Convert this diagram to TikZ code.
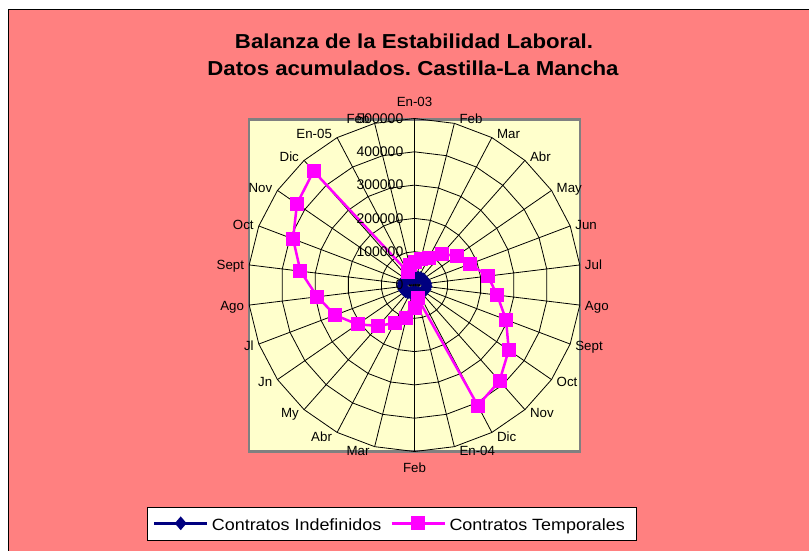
\documentclass[tikz,border=0pt]{standalone}
\usepackage{fontspec}
\setmainfont{Liberation Sans}
\newfontfamily\widefont[FakeStretch=1.1]{Liberation Sans}
\usetikzlibrary{shapes.geometric,calc}
\frenchspacing

\definecolor{chartbg}{HTML}{FF8080}
\definecolor{plotbg}{HTML}{FFFFCC}
\definecolor{plotedge}{HTML}{808080}
\definecolor{indef}{HTML}{000080}
\definecolor{temp}{HTML}{FF00FF}

\tikzset{
  gridline/.style={black, line width=0.8pt},
  monthlabel/.style={font=\fontsize{13.3}{16}\selectfont, inner sep=0pt, text height=9.6pt, text depth=0pt},
  ticklabel/.style={font=\fontsize{14}{16}\selectfont, anchor=east, inner sep=0pt},
  titletext/.style={font=\widefont\bfseries\fontsize{20.2}{24}\selectfont, inner sep=0pt},
  legendtext/.style={font=\widefont\fontsize{16.3}{20}\selectfont, inner sep=0pt, anchor=base west},
  indefline/.style={indef, line width=2.5pt, line join=round},
  templine/.style={temp, line width=2.5pt, line join=round},
  indefmark/.style={diamond, fill=indef, inner sep=0pt, minimum width=12pt, minimum height=14pt},
  tempmark/.style={rectangle, fill=temp, inner sep=0pt, minimum size=14pt}
}

\begin{document}
\begin{tikzpicture}[x=1pt, y=-1pt]
  \useasboundingbox (0,0) rectangle (809,550);

  % Chart area
  \fill[white] (0,0) rectangle (809,550);
  \draw[black, line width=1.3pt, fill=chartbg] (8.7,9.7) rectangle (815,556);

  % Title
  \node[titletext, anchor=base] (title1) at (414,48.3) {Balanza de la Estabilidad Laboral.};
  \node[titletext, anchor=base] (title2) at (413,75.3) {Datos acumulados. Castilla-La Mancha};

  % Plot area
  \draw[plotedge, line width=2.4pt, fill=plotbg] (248.9,119.5) rectangle (580,451.5);

  \begin{scope}[shift={(414.5,285)}]
    \coordinate (ctr) at (0,0);

    % Rings
    \foreach \k in {1,...,5}
      \draw[gridline] (-90:{\k*33.3}) \foreach \i in {1,...,25} { -- ({\i*360/26-90}:{\k*33.3}) } -- cycle;

    % Spokes and month labels
    \foreach \m [count=\i from 0] in {En-03,Feb,Mar,Abr,May,Jun,Jul,Ago,Sept,Oct,Nov,Dic,En-04,Feb,Mar,Abr,My,Jn,Jl,Ago,Sept,Oct,Nov,Dic,En-05,Feb} {
      \pgfmathsetmacro\a{\i*360/26-90}
      \coordinate (rim\i) at (\a:166.5);
      \draw[gridline] (ctr) -- (rim\i);
      \ifnum\i=0
        \node[monthlabel, anchor=south] (lab\i) at ($(rim\i)+(0,-12)$) {\m};
      \else\ifnum\i=13
        \node[monthlabel, anchor=north] (lab\i) at ($(rim\i)+(0,11)$) {\m};
      \else\ifnum\i<13
        \node[monthlabel, anchor=west] (lab\i) at ($(rim\i)+(5,{4.5*sin(\a)})$) {\m};
      \else
        \node[monthlabel, anchor=east] (lab\i) at ($(rim\i)+(-5,{4.5*sin(\a)})$) {\m};
      \fi\fi\fi
    }

    % Contratos Indefinidos
    \foreach \v [count=\i from 0] in {22,23,25,28,31,34,36,37,36,34,31,27,23,22,23,26,30,33,36,37,36,34,31,27,24,22}
      \coordinate (d\i) at ({\i*360/26-90}:{\v*0.333});
    \draw[indefline] (d0) \foreach \i in {1,...,25} { -- (d\i) } -- cycle;
    \foreach \i in {0,...,25}
      \node[indefmark] (dm\i) at (d\i) {};

    % Contratos Temporales
    \foreach \v [count=\i from 0] in {70,80,92,124,154,178,222,250,294,344,385,409,40,68,101,129,164,208,255,294,345,390,429,457,45,62}
      \coordinate (t\i) at ({\i*360/26-90}:{\v*0.333});
    \draw[templine] (t0) \foreach \i in {1,...,25} { -- (t\i) } -- cycle;
    \foreach \i in {0,...,25}
      \node[tempmark] (tm\i) at (t\i) {};

    % Value axis
    \foreach \k/\t in {0/0,1/100000,2/200000,3/300000,4/400000,5/500000}
      \node[ticklabel] (tick\k) at (-11,{-\k*33.3}) {\t};
  \end{scope}

  % Legend
  \node[draw=black, fill=white, line width=0.8pt, minimum width=489.4pt, minimum height=32.3pt, inner sep=0pt] (legend) at (392,523.85) {};
  \coordinate (li1) at (154,523.3);
  \coordinate (li2) at (207.3,523.3);
  \draw[indefline] (li1) -- (li2);
  \node[indefmark] (lim) at (180.7,523.3) {};
  \node[legendtext] (litext) at (211.7,530) {Contratos Indefinidos};
  \coordinate (lt1) at (391.7,523.3);
  \coordinate (lt2) at (445,523.3);
  \draw[templine] (lt1) -- (lt2);
  \node[tempmark] (ltm) at (418.3,523.3) {};
  \node[legendtext] (lttext) at (449.3,530) {Contratos Temporales};

\end{tikzpicture}
\end{document}
